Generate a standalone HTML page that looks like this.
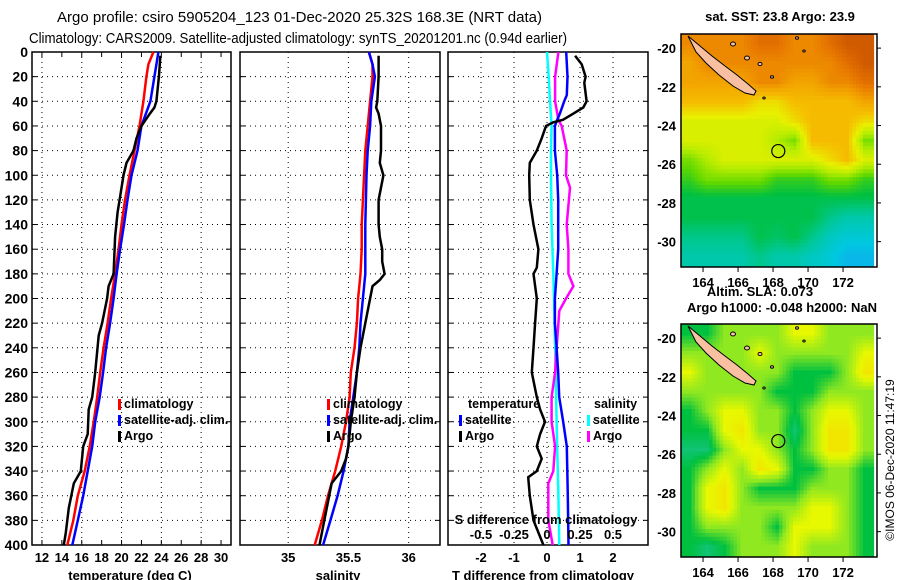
<!DOCTYPE html>
<html><head><meta charset="utf-8"><style>
html,body{margin:0;padding:0;background:#fff;width:900px;height:580px;overflow:hidden}
svg{display:block;font-family:"Liberation Sans",sans-serif}
</style></head><body>
<svg id="root" width="900" height="580" viewBox="0 0 900 580" xmlns="http://www.w3.org/2000/svg">
<text x="57" y="22" font-size="15" textLength="485" lengthAdjust="spacingAndGlyphs">Argo profile: csiro 5905204_123 01-Dec-2020 25.32S 168.3E (NRT data)</text>
<text x="29" y="43" font-size="15" textLength="538" lengthAdjust="spacingAndGlyphs">Climatology: CARS2009. Satellite-adjusted climatology: synTS_20201201.nc (0.94d earlier)</text>
<text x="780" y="21" font-size="13" font-weight="bold" text-anchor="middle">sat. SST: 23.8 Argo: 23.9</text>
<text x="760" y="296" font-size="13" font-weight="bold" text-anchor="middle">Altim. SLA: 0.073</text>
<text x="782" y="312" font-size="13" font-weight="bold" text-anchor="middle">Argo h1000: -0.048 h2000: NaN</text>
<text transform="translate(894,460) rotate(-90)" font-size="12" text-anchor="middle">©IMOS 06-Dec-2020 11:47:19</text>
<g id="g"></g>
</svg>
<script>
// ---- data ----
const tDepthClim=[0,10,20,40,60,80,100,120,140,160,180,200,220,240,260,280,300,320,340,360,380,400];
const tempClim=[23.2,22.7,22.5,22.2,21.8,21.3,20.8,20.35,20.0,19.7,19.35,18.95,18.6,18.2,17.85,17.55,17.2,16.8,16.3,15.6,15.15,14.55];
const tDepthSat=[0,20,40,60,80,100,120,140,160,180,200,220,240,260,280,300,320,340,360,380,400];
const tempSat=[23.7,23.3,22.9,22.0,21.6,21.0,20.6,20.25,19.85,19.5,19.2,18.85,18.45,18.15,17.8,17.35,17.05,16.6,16.15,15.6,15.05];
const tDepthArgo=[3,20,40,45,50,60,70,80,90,100,120,130,150,160,180,190,200,220,230,260,280,290,310,320,340,350,360,370,390,400];
const tempArgo=[23.9,23.75,23.5,23.3,22.85,22.0,21.5,21.2,20.5,20.2,19.8,19.6,19.35,19.3,19.2,18.7,18.55,18.05,17.7,17.35,17.05,16.7,16.6,16.15,15.9,15.2,14.95,14.7,14.4,14.2];

const sDepthClim=[0,10,20,40,60,80,100,120,140,160,180,200,220,240,260,280,300,320,340,360,380,400];
const salClim=[35.67,35.70,35.70,35.68,35.66,35.64,35.63,35.62,35.61,35.61,35.60,35.58,35.57,35.55,35.52,35.51,35.48,35.44,35.39,35.33,35.28,35.22];
const sDepthSat=[0,10,20,40,60,80,100,140,160,180,200,220,240,260,280,300,320,340,360,380,400];
const salSat=[35.67,35.70,35.72,35.69,35.68,35.66,35.65,35.64,35.64,35.64,35.62,35.60,35.59,35.57,35.54,35.51,35.50,35.46,35.41,35.35,35.29];
const sDepthArgo=[3,20,40,45,50,60,80,90,100,120,140,150,160,170,175,180,185,190,200,220,240,260,280,300,320,330,340,350,360,380,400];
const salArgo=[35.75,35.75,35.74,35.73,35.75,35.77,35.77,35.76,35.79,35.75,35.75,35.76,35.78,35.78,35.79,35.80,35.76,35.70,35.68,35.64,35.60,35.57,35.55,35.52,35.50,35.48,35.44,35.36,35.34,35.30,35.26];

const dDepthTSat=[0,20,35,40,50,55,60,80,100,120,160,180,200,220,240,260,280,300,320,360,400];
const dTempSat=[0.58,0.62,0.60,0.52,0.39,0.31,0.24,0.24,0.31,0.34,0.34,0.29,0.24,0.24,0.29,0.34,0.37,0.49,0.60,0.63,0.65];
const dDepthTArgo=[3,10,20,25,40,45,50,55,57,60,70,80,90,100,120,140,160,175,180,200,220,240,260,280,290,300,310,320,330,340,345,360,380,400];
const dTempArgo=[0.85,1.05,1.17,1.13,1.2,1.1,0.8,0.48,0.19,-0.03,-0.16,-0.31,-0.52,-0.54,-0.52,-0.41,-0.26,-0.31,-0.41,-0.31,-0.36,-0.41,-0.46,-0.31,-0.21,-0.06,-0.21,-0.31,-0.16,-0.31,-0.57,-0.52,-0.41,-0.11];
const dDepthSSat=[0,20,40,60,80,100,140,180,200,240,300,360,400];
const dSalSat=[0.0,0.013,0.023,0.035,0.030,0.030,0.035,0.048,0.053,0.061,0.073,0.086,0.093];
const dDepthSArgo=[0,20,40,55,60,80,100,110,140,160,180,190,200,210,220,240,260,280,300,320,340,350,360,380,400];
const dSalArgo=[0.086,0.061,0.061,0.086,0.111,0.149,0.144,0.174,0.149,0.162,0.162,0.2,0.144,0.093,0.086,0.073,0.061,0.035,0.035,0.061,0.048,0.010,0.010,0.010,0.043];

const depthTicks=[0,20,40,60,80,100,120,140,160,180,200,220,240,260,280,300,320,340,360,380,400];
const tempTicks=[12,14,16,18,20,22,24,26,28,30];
const salTicks=[35,35.5,36];
const salTickLabels=["35","35.5","36"];
const dTTicks=[-2,-1,0,1,2];
const dSTicks=[-0.5,-0.25,0,0.25,0.5];
const dSTickLabels=["-0.5","-0.25","0","0.25","0.5"];
const latTicks=[-20,-22,-24,-26,-28,-30];
const lonTicks=[164,166,168,170,172];
const argoLon=168.3, argoLat=-25.32;

// map grids: rows from lat -19.3 southward, 1 deg each; cols from lon 162.74 eastward
const sstGrid=[
[6,6,6,6,6.5,6.5,6,6,6.5,7,7],
[5.5,6,6,6,6,6,6,6,6,6.5,7],
[5.5,5.5,5.5,5.5,6,6,5.5,5.5,6,6,6.5],
[5,5,5,5,4.5,4.5,5,5,5,5,5.5],
[4,4,4,4,4,4,4.5,5,5,5,4.5],
[4,4,4,4,4,3.5,3,5,5,5,3],
[3,3.5,4,4,4,4,4,4,4.5,5,4],
[2.5,3,3,3,3,2.5,2.5,2.5,3,3,2.5],
[2,2,2,2,2,2,2,2,2,2,2],
[2,2,2,2,2,2,2,2,1.5,1.2,1.2],
[1.5,1.5,1.5,1.5,2,1.8,2,1.5,1,0.8,0.8],
[1.2,1.2,1.2,1.2,1.5,1.2,1.2,1,0.8,0.5,0.5]];
const slaGrid=[
[1,1,2,2,2,2,3,3,2,2,2],
[2,2,2,2,3,2,2,2,2,2,3],
[3,2,2,2,2,2,1,1,1,2,3.5],
[2,2,2,2,2,1,1,1,2,2,2],
[1,2,3,3,2,2,1,2,3,3,2],
[1,1,3,3.5,2,2,0.5,2,3.5,3.5,2],
[0.5,0.5,2,3,3,2,1,2,3.5,3.5,2],
[1,2,3,2,3.5,3,1,1,2,2,1],
[1,3,3.5,2,1,1,1,2,2,2,1],
[1,3,3.5,2,2,2,2,3,3,2,1],
[1,2,2,2,2,1,3,3,3,2,1],
[1,0.5,1,2,2,2,3,2,2,2,1]];

// ---- drawing ----
const NS='http://www.w3.org/2000/svg';
const G=document.getElementById('g');
function mk(tag,attrs,parent){const e=document.createElementNS(NS,tag);for(const k in attrs)e.setAttribute(k,attrs[k]);(parent||G).appendChild(e);return e;}
const PT=52,PB=545;
const yD=d=>PT+d*(PB-PT)/400;
function linScale(d0,d1,r0,r1){return v=>r0+(v-d0)*(r1-r0)/(d1-d0);}
const xT=linScale(11,31,32,231);
const xS=linScale(34.6,36.26,240,440);
const xDT=linScale(-3,3.06,448,648);
const xDS=v=>xDT(v*4);

function panel(name,x0,x1,vgrid,xf){
  const g=mk('g',{});
  
  
  depthTicks.forEach(d=>{if(d>0&&d<400){const l=mk('line',{x1:x0,x2:x1,y1:yD(d),y2:yD(d),stroke:'#000','stroke-width':1,'stroke-dasharray':'1,4'},g);
    mk('line',{x1:x0,x2:x0+5,y1:yD(d),y2:yD(d),stroke:'#000'},g);mk('line',{x1:x1-5,x2:x1,y1:yD(d),y2:yD(d),stroke:'#000'},g);}});
  vgrid.forEach(v=>{const X=xf(v);const l=mk('line',{x1:X,x2:X,y1:PT,y2:PB,stroke:'#000','stroke-width':1,'stroke-dasharray':'1,4'},g);});
  const r=mk('rect',{x:x0,y:PT,width:x1-x0,height:PB-PT,fill:'none',stroke:'#000','stroke-width':1.5},g);
  
  return g;
}
function series(g,name,depths,vals,xf,color){
  const pts=depths.map((d,i)=>xf(vals[i]).toFixed(1)+','+yD(d).toFixed(1)).join(' ');
  const p=mk('polyline',{points:pts,fill:'none',stroke:color,'stroke-width':2.5,'stroke-linejoin':'miter'},g);
  
}
function txt(s,x,y,o,parent){const t=mk('text',Object.assign({x:x,y:y,'font-size':13,'font-weight':'bold'},o||{}),parent);t.textContent=s;return t;}
function legend(g,x,y,items){
  items.forEach((it,i)=>{const yy=y+i*16;
    const m=mk('rect',{x:x,y:yy-9,width:3,height:11,fill:it[1]},g);
    const t=txt(it[0],x+6,yy,{'font-size':12.5},g);});
}

// Panel 1
const p1=panel('temperature-panel',32,231,[12,16,20,24,28],xT);
series(p1,'temperature-climatology-line',tDepthClim,tempClim,xT,'#ff0000');
series(p1,'temperature-satellite-line',tDepthSat,tempSat,xT,'#0000ff');
series(p1,'temperature-argo-line',tDepthArgo,tempArgo,xT,'#000000');
depthTicks.forEach(d=>{const t=txt(String(d),28,yD(d)+5,{'text-anchor':'end','font-size':14});});
tempTicks.forEach(v=>{const t=txt(String(v),xT(v),562,{'text-anchor':'middle'});
  mk('line',{x1:xT(v),x2:xT(v),y1:PB,y2:PB-5,stroke:'#000'});mk('line',{x1:xT(v),x2:xT(v),y1:PT,y2:PT+5,stroke:'#000'});});
{const t=txt('temperature (deg C)',130,580,{'text-anchor':'middle'});}
legend(p1,118,408,[['climatology','#ff0000'],['satellite-adj. clim.','#0000ff'],['Argo','#000000']]);

// Panel 2
const p2=panel('salinity-panel',240,440,salTicks,xS);
series(p2,'salinity-climatology-line',sDepthClim,salClim,xS,'#ff0000');
series(p2,'salinity-satellite-line',sDepthSat,salSat,xS,'#0000ff');
series(p2,'salinity-argo-line',sDepthArgo,salArgo,xS,'#000000');
salTicks.forEach((v,i)=>{const t=txt(salTickLabels[i],xS(v),562,{'text-anchor':'middle'});});
{const t=txt('salinity',338,580,{'text-anchor':'middle'});}
legend(p2,327,408,[['climatology','#ff0000'],['satellite-adj. clim.','#0000ff'],['Argo','#000000']]);

// Panel 3
const p3=panel('difference-panel',448,648,dTTicks,xDT);
series(p3,'salinity-diff-satellite-line',dDepthSSat,dSalSat,xDS,'#00ffff');
series(p3,'salinity-diff-argo-line',dDepthSArgo,dSalArgo,xDS,'#ff00ff');
series(p3,'temperature-diff-satellite-line',dDepthTSat,dTempSat,xDT,'#0000ff');
series(p3,'temperature-diff-argo-line',dDepthTArgo,dTempArgo,xDT,'#000000');
dTTicks.forEach(v=>{const t=txt(String(v),xDT(v),562,{'text-anchor':'middle'});});
dSTicks.forEach((v,i)=>{const t=txt(dSTickLabels[i],xDS(v),539,{'text-anchor':'middle'});});
{const t=txt('S difference from climatology',546,524,{'text-anchor':'middle'});}
{const t=txt('T difference from climatology',543,580,{'text-anchor':'middle'});}
{const t=txt('temperature',468,408,{'font-size':12.5});}
{const t=txt('salinity',594,408,{'font-size':12.5});}
legend(p3,459,424,[['satellite','#0000ff'],['Argo','#000000']]);
legend(p3,587,424,[['satellite','#00ffff'],['Argo','#ff00ff']]);

// Maps
const MX0=681,MX1=877,lon0=162.74,lat0=-19.27;
const mxf=lon=>MX0+(lon-lon0)*17.5;
const myf=(lat,top)=>top+(lat0-lat)*19.35;
const sstStops=[[30,140,255],[0,200,224],[0,200,150],[0,192,64],[96,216,0],[180,236,0],[232,240,0],[245,192,0],[242,160,0],[232,120,0],[208,90,0]];
const slaStops=[[32,200,168],[0,192,64],[144,232,32],[232,248,0],[248,212,0]];
function cmap(stops,v,maxv){let t=Math.max(0,Math.min(1,v/maxv))*(stops.length-1);const i=Math.min(stops.length-2,Math.floor(t));const f=t-i;
  const c=stops[i].map((a,k)=>Math.round(a+(stops[i+1][k]-a)*f));return 'rgb('+c.join(',')+')';}
function sample(grid,r,c){ // bilinear at fractional cell coordinates (cell centres at integer+0.5)
  const R=grid.length,C=grid[0].length;
  let y=Math.max(0,Math.min(R-1,r-0.5)),x=Math.max(0,Math.min(C-1,c-0.5));
  const y0=Math.floor(y),x0=Math.floor(x),y1=Math.min(R-1,y0+1),x1=Math.min(C-1,x0+1),fy=y-y0,fx=x-x0;
  return grid[y0][x0]*(1-fx)*(1-fy)+grid[y0][x1]*fx*(1-fy)+grid[y1][x0]*(1-fx)*fy+grid[y1][x1]*fx*fy;
}
function drawMap(name,top,grid,stops,maxv,fid,sub){
  const g=mk('g',{});
  const defs=mk('defs',{},g);
  const cp=mk('clipPath',{id:'c'+fid},defs);mk('rect',{x:MX0,y:top,width:MX1-MX0,height:233},cp);
  const cg=mk('g',{'clip-path':'url(#c'+fid+')'},g);
  const R=grid.length,C=grid[0].length;
  for(let r=0;r<R*sub;r++)for(let c=0;c<C*sub;c++){
    const v=sample(grid,(r+0.5)/sub,(c+0.5)/sub);
    const cell=mk('rect',{x:(MX0+c*17.5/sub).toFixed(2),y:(top+r*19.35/sub).toFixed(2),width:(17.5/sub+0.6).toFixed(2),height:(19.35/sub+0.6).toFixed(2),fill:cmap(stops,v,maxv)},cg);
    
    
  }
  const oy=top-34;
  const isl=mk('polygon',{points:[[688,36],[700,46],[712,56],[725,66],[737,75],[748,84],[756,91],[754,95],[745,93],[733,86],[719,75],[706,63],[696,52]].map(p=>p[0]+','+(p[1]+oy)).join(' '),fill:'#f8c0a0',stroke:'#000','stroke-width':1},cg);
  
  [[733,44,2.5],[747,58,2.5],[760,64,2],[772,77,1.5],[797,38,1.5],[804,51,1.2],[764,98,1.2]].forEach(p=>{const s=mk('ellipse',{cx:p[0],cy:p[1]+oy,rx:p[2],ry:p[2]*0.8,fill:'#f8c0a0',stroke:'#000'},cg);});
  const circ=mk('circle',{cx:mxf(argoLon),cy:myf(argoLat,top),r:6.5,fill:'none',stroke:'#000','stroke-width':1.2},g);
  
  const fr=mk('rect',{x:MX0,y:top,width:MX1-MX0,height:233,fill:'none',stroke:'#000','stroke-width':1.5},g);
  latTicks.forEach(l=>{const Y=myf(l,top);mk('line',{x1:MX1,x2:MX1+4,y1:Y,y2:Y,stroke:'#000'},g);
    const t=txt(String(l),676,Y+5,{'text-anchor':'end'},g);});
  lonTicks.forEach(l=>{const X=mxf(l);mk('line',{x1:X,x2:X,y1:top+233,y2:top+238,stroke:'#000'},g);
    const t=txt(String(l),X,top+253,{'text-anchor':'middle'},g);});
}
drawMap('sst-map',34,sstGrid,sstStops,7,'sst',5);
drawMap('sla-map',324,slaGrid,slaStops,4,'sla',5);
</script>
</body></html>
